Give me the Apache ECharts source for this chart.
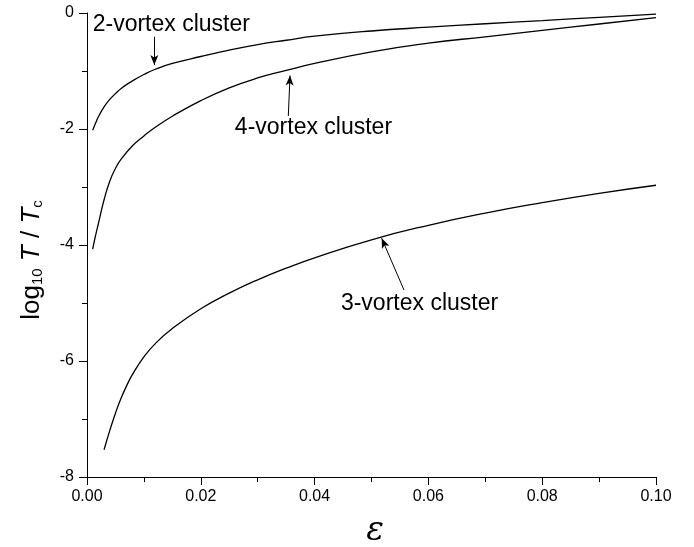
<!DOCTYPE html>
<html>
<head>
<meta charset="utf-8">
<script src="https://cdn.jsdelivr.net/npm/echarts@6/dist/echarts.min.js"></script>
<style>
html,body{margin:0;padding:0;background:#fff;}
#c{width:694px;height:547px;}
</style>
</head>
<body>
<div id="c"></div>
<script>
// epsilon values and log10 T/Tc for each cluster
const eps2 = [0.001, 0.0015, 0.002, 0.003, 0.004, 0.005, 0.006, 0.008, 0.010, 0.012, 0.015, 0.02, 0.025, 0.03, 0.035, 0.04, 0.05, 0.06, 0.07, 0.08, 0.09, 0.10];
const val2 = [-2.02, -1.90, -1.79, -1.62, -1.49, -1.39, -1.30, -1.17, -1.06, -0.97, -0.87, -0.75, -0.64, -0.545, -0.47, -0.40, -0.31, -0.245, -0.185, -0.13, -0.075, -0.02];

const eps4 = [0.001, 0.0015, 0.002, 0.003, 0.004, 0.005, 0.006, 0.008, 0.010, 0.012, 0.015, 0.02, 0.025, 0.03, 0.035, 0.04, 0.05, 0.06, 0.07, 0.08, 0.09, 0.10];
const val4 = [-4.07, -3.84, -3.63, -3.22, -2.90, -2.68, -2.52, -2.29, -2.12, -1.97, -1.78, -1.51, -1.29, -1.12, -0.99, -0.87, -0.67, -0.52, -0.41, -0.30, -0.19, -0.08];

const eps3 = [0.003, 0.004, 0.005, 0.006, 0.007, 0.008, 0.010, 0.012, 0.015, 0.02, 0.025, 0.03, 0.035, 0.04, 0.05, 0.06, 0.07, 0.08, 0.09, 0.10];
const val3 = [-7.53, -7.20, -6.90, -6.64, -6.42, -6.23, -5.93, -5.70, -5.44, -5.10, -4.83, -4.60, -4.40, -4.22, -3.91, -3.66, -3.45, -3.27, -3.11, -2.97];

const seriesNames = ['2-vortex cluster', '4-vortex cluster', '3-vortex cluster'];

// annotation anchors (data coordinates): arrow tail, arrow tip, label anchor
const arrowTail = [[0.01183, -0.409], [0.03538, -1.776], [0.05571, -4.776]];
const arrowTip  = [[0.01183, -0.897], [0.03568, -1.078], [0.05179, -3.884]];
const labelAt   = [[0.0010, -0.20], [0.0398, -1.974], [0.05844, -5.017]];
const labelAlign = ['left', 'center', 'center'];

const xTicksMin = 0, xTicksMax = 0.10, xStep = 0.02;
const yTicksMin = -8, yTicksMax = 0, yStep = 2;

const FONT = '"Liberation Sans", Arial, sans-serif';

function pairs(xs, ys){ return xs.map((x,i)=>[x, ys[i]]); }

const chart = echarts.init(document.getElementById('c'), null, {renderer:'canvas'});

const dataSets = [pairs(eps2,val2), pairs(eps4,val4), pairs(eps3,val3)];

const series = dataSets.map((d, i) => ({
  name: seriesNames[i],
  type: 'line',
  data: d,
  smooth: true,
  showSymbol: false,
  symbol: 'none',
  lineStyle: {color:'#000', width:1.3},
  itemStyle: {color:'#000'},
  silent: true,
  markLine: {
    silent: true,
    symbol: ['none', 'arrow'],
    symbolSize: [6, 10],
    label: {show:false},
    lineStyle: {color:'#000', width:1, type:'solid'},
    data: [[{coord: arrowTail[i]}, {coord: arrowTip[i]}]]
  }
}));

chart.setOption({
  animation: false,
  backgroundColor: '#fff',
  grid: {left: 87, right: 38, top: 13, bottom: 70, containLabel: false, outerBoundsMode: 'none'},
  xAxis: {
    type: 'value',
    min: xTicksMin, max: xTicksMax, interval: xStep,
    axisLine: {show:true, onZero:false, lineStyle:{color:'#000', width:1}},
    axisTick: {show:true, inside:false, length:8, lineStyle:{color:'#000', width:1}},
    minorTick: {show:true, splitNumber:2, length:5, lineStyle:{color:'#000', width:1}},
    splitLine: {show:false},
    axisLabel: {color:'#000', fontSize:16, fontFamily: FONT, margin: 12, formatter: v => v.toFixed(2)}
  },
  yAxis: {
    type: 'value',
    min: yTicksMin, max: yTicksMax, interval: yStep,
    axisLine: {show:true, onZero:false, lineStyle:{color:'#000', width:1}},
    axisTick: {show:true, inside:false, length:8, lineStyle:{color:'#000', width:1}},
    minorTick: {show:true, splitNumber:2, length:5, lineStyle:{color:'#000', width:1}},
    splitLine: {show:false},
    axisLabel: {color:'#000', fontSize:16, fontFamily: FONT, margin: 13}
  },
  series: series
});

// text labels for the annotations
const graphics = labelAt.map((p, i) => {
  const px = chart.convertToPixel({gridIndex:0}, p);
  return {
    type: 'text',
    x: px[0], y: px[1],
    silent: true,
    style: {text: seriesNames[i], fill:'#000', font: '23px ' + FONT, textAlign: labelAlign[i], textVerticalAlign:'middle'}
  };
});
// x-axis title
graphics.push({
  type: 'text',
  x: 375, y: 531,
  silent: true,
  style: {text: 'ε', fill:'#000', font: 'italic 33px "DejaVu Serif", serif', textAlign:'center', textVerticalAlign:'middle'}
});
// y-axis title (rotated)
graphics.push({
  type: 'text',
  x: 32, y: 260,
  rotation: Math.PI / 2,
  silent: true,
  style: {
    text: '{n|log}{s|10}{n| }{i|T}{n| / }{i|T}{s|c}',
    align: 'center',
    verticalAlign: 'middle',
    fill: '#000',
    rich: {
      n: {fontFamily: FONT, fontSize: 26, fill:'#000'},
      i: {fontFamily: FONT, fontSize: 26, fontStyle:'italic', fill:'#000'},
      s: {fontFamily: FONT, fontSize: 15, fill:'#000', verticalAlign:'bottom', padding:[12,0,0,0]}
    }
  }
});
chart.setOption({graphic: graphics});
</script>
</body>
</html>
